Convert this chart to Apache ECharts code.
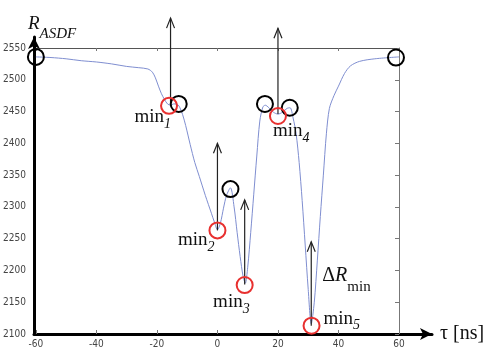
<!DOCTYPE html>
<html>
<head>
<meta charset="utf-8">
<script src="https://cdn.jsdelivr.net/npm/echarts@6/dist/echarts.min.js"></script>
<style>
  html, body { margin: 0; padding: 0; background: #fff; }
  #chart { width: 492px; height: 349px; }
</style>
</head>
<body>
<div id="chart"></div>
<script>
// curve R_ASDF(tau)
const tau = [-60, -55, -50, -45, -40, -35, -30, -26, -23, -21.5, -20.5, -19.5, -18.5, -17.5, -16.5, -15.5,
  -14.5, -13.5, -12.5, -11.5, -10.5, -9, -7.5, -6, -4, -2, -1, 0, 1, 2, 3, 4.3, 5.5, 6.5, 7.5, 8.5, 9.2,
  10, 11, 12, 13, 14, 15, 15.8, 17, 18.5, 20, 21.5, 23, 24, 25, 26, 27, 28, 29, 30, 31, 32, 33, 34, 35,
  36, 37, 38.5, 40, 42, 44, 47, 52, 60];
const rAsdf = [2536, 2535, 2533, 2530, 2528, 2525, 2521, 2519, 2517, 2512, 2503, 2490, 2478, 2469, 2462, 2460,
  2462, 2462, 2457, 2445, 2428, 2398, 2370, 2348, 2318, 2290, 2276, 2264, 2275, 2298, 2318, 2330, 2300, 2260, 2222, 2190, 2180,
  2205, 2260, 2320, 2380, 2435, 2457, 2460, 2456, 2449, 2446, 2449, 2455, 2456, 2440, 2415, 2370, 2310, 2240, 2170, 2116, 2150, 2215, 2285, 2350,
  2415, 2455, 2475, 2490, 2510, 2522, 2529, 2533, 2536];

// red circles (minima) and black circles
const minTau = [-16, 0, 9, 20, 31.1];
const minR = [2459, 2263, 2177, 2443, 2113];
const minNames = ['1', '2', '3', '4', '5'];
const peakTau = [-60, -12.8, 4.3, 15.7, 23.9, 59];
const peakR = [2536, 2462, 2328, 2462, 2456, 2535];

// arrows going up from each minimum
const arrowTau = [-15.5, 0, 9, 20, 31];
const arrowFrom = [2462, 2263, 2178, 2446, 2113];
const arrowTo = [2597, 2400, 2311, 2581, 2245];
const deltaArrow = 4; // the one marked ΔR_min

const xTicks = [-60, -40, -20, 0, 20, 40, 60];
const yTicks = [2100, 2150, 2200, 2250, 2300, 2350, 2400, 2450, 2500, 2550];

const SERIF = "'Liberation Serif', 'DejaVu Serif', serif";
const NARROW = "'Liberation Sans Narrow', 'DejaVu Sans Condensed', sans-serif";

// where each min_k label sits next to its circle
const minLabelPlace = [
  { align: 'right', offset: [2, 11] },
  { align: 'right', offset: [-3, 10] },
  { align: 'right', offset: [5, 17] },
  { align: 'left', offset: [-5, 15] },
  { align: 'left', offset: [12, -7] }
];

const subRich = {
  m: { fontFamily: SERIF, fontSize: 19, color: '#111' },
  s: { fontFamily: SERIF, fontStyle: 'italic', fontSize: 14, color: '#111', verticalAlign: 'bottom', padding: [14, 0, 0, 0] }
};

const xRange = { min: xTicks[0], max: xTicks[xTicks.length - 1], interval: xTicks[1] - xTicks[0] };
const yRange = { min: yTicks[0], max: yTicks[yTicks.length - 1], interval: yTicks[1] - yTicks[0] };

let chart = echarts.init(document.getElementById('chart'), null, { renderer: 'canvas' });

let option = {
  animation: false,
  backgroundColor: '#fff',
  grid: [
    { left: 34, right: 93, top: 48, bottom: 15 },
    // only for the two thick arrow axes
    { left: 34, right: 60, top: 37, bottom: 15 }
  ],
  xAxis: [
    {
      type: 'value', gridIndex: 0, position: 'bottom', ...xRange,
      axisLine: { show: false },
      axisTick: { show: true, inside: true, length: 4, lineStyle: { color: '#777' } },
      axisLabel: { margin: 5, fontFamily: NARROW, fontSize: 10, color: '#444', formatter: v => String(v) },
      splitLine: { show: false }
    },
    {
      type: 'value', gridIndex: 0, position: 'top', ...xRange,
      axisLine: { show: true, onZero: false, lineStyle: { color: '#555', width: 1 } },
      axisTick: { show: true, inside: true, length: 3, lineStyle: { color: '#777' } },
      axisLabel: { show: false },
      splitLine: { show: false }
    },
    {
      type: 'value', gridIndex: 1, position: 'bottom', min: 0, max: 1,
      axisLine: {
        show: true, onZero: false, symbol: ['none', 'arrow'], symbolSize: [9, 12],
        lineStyle: { color: '#000', width: 3 }
      },
      axisTick: { show: false },
      axisLabel: { show: false },
      splitLine: { show: false },
      name: 'τ [ns]',
      nameLocation: 'end',
      nameGap: 8,
      nameTextStyle: { fontFamily: SERIF, fontSize: 20, color: '#111', verticalAlign: 'middle' }
    }
  ],
  yAxis: [
    {
      type: 'value', gridIndex: 0, position: 'left', ...yRange,
      axisLine: { show: false },
      axisTick: { show: false },
      axisLabel: { margin: 10, fontFamily: NARROW, fontSize: 10, color: '#444', formatter: v => String(v) },
      splitLine: { show: false }
    },
    {
      type: 'value', gridIndex: 0, position: 'right', ...yRange,
      axisLine: { show: true, onZero: false, lineStyle: { color: '#777', width: 1 } },
      axisTick: { show: true, inside: true, length: 4, lineStyle: { color: '#777' } },
      axisLabel: { show: false },
      splitLine: { show: false }
    },
    {
      type: 'value', gridIndex: 1, position: 'left', min: 0, max: 1,
      axisLine: {
        show: true, onZero: false, symbol: ['none', 'arrow'], symbolSize: [9, 12],
        lineStyle: { color: '#000', width: 3 }
      },
      axisTick: { show: false },
      axisLabel: { show: false },
      splitLine: { show: false },
      name: '{r|R}{s|ASDF}',
      nameLocation: 'end',
      nameGap: 13,
      nameTextStyle: {
        align: 'left', verticalAlign: 'middle', padding: [0, 0, 0, -6],
        rich: {
          r: { fontFamily: SERIF, fontStyle: 'italic', fontSize: 19, color: '#111' },
          s: { fontFamily: SERIF, fontStyle: 'italic', fontSize: 15, color: '#111', verticalAlign: 'bottom', padding: [20, 0, 0, 0] }
        }
      }
    }
  ],
  series: [
    {
      name: 'R_ASDF',
      type: 'line',
      xAxisIndex: 0, yAxisIndex: 0,
      data: tau.map((t, i) => [t, rAsdf[i]]),
      showSymbol: false,
      smooth: 0.3,
      lineStyle: { color: '#7f8ed0', width: 1 },
      z: 2
    },
    {
      name: 'arrows',
      type: 'custom',
      xAxisIndex: 0, yAxisIndex: 0,
      clip: false,
      data: arrowTau.map((t, i) => [t, arrowFrom[i], arrowTo[i]]),
      encode: { x: 0, y: [1, 2] },
      renderItem: function (params, api) {
        let p0 = api.coord([api.value(0), api.value(1)]);
        let p1 = api.coord([api.value(0), api.value(2)]);
        let children = [
          { type: 'line', shape: { x1: p0[0], y1: p0[1], x2: p1[0], y2: p1[1] },
            style: { stroke: '#222', lineWidth: 1.2 } },
          { type: 'polyline', shape: { points: [[p1[0] - 4, p1[1] + 10], [p1[0], p1[1]], [p1[0] + 4, p1[1] + 10]] },
            style: { stroke: '#222', fill: null, lineWidth: 1.2 } }
        ];
        if (params.dataIndex === deltaArrow) {
          children.push({
            type: 'text',
            x: p0[0] + 11,
            y: (p0[1] + p1[1]) / 2 - 8,
            style: {
              text: '{d|Δ}{r|R}{s|min}',
              align: 'left', verticalAlign: 'middle',
              rich: {
                d: { fontFamily: SERIF, fontSize: 20, fill: '#111' },
                r: { fontFamily: SERIF, fontStyle: 'italic', fontSize: 20, fill: '#111' },
                s: { fontFamily: SERIF, fontSize: 15, fill: '#111', verticalAlign: 'bottom', padding: [22, 0, 0, 0] }
              }
            }
          });
        }
        return { type: 'group', children: children };
      },
      z: 3
    },
    {
      name: 'edges',
      type: 'scatter',
      xAxisIndex: 0, yAxisIndex: 0,
      clip: false,
      data: peakTau.map((t, i) => [t, peakR[i]]),
      symbol: 'circle',
      symbolSize: 16,
      itemStyle: { color: 'rgba(0,0,0,0)', borderColor: '#000', borderWidth: 2, opacity: 1 },
      z: 4
    },
    {
      name: 'minima',
      type: 'scatter',
      xAxisIndex: 0, yAxisIndex: 0,
      clip: false,
      data: minTau.map((t, i) => ({
        value: [t, minR[i]],
        label: {
          show: true,
          position: 'inside',
          align: minLabelPlace[i].align,
          verticalAlign: 'middle',
          offset: minLabelPlace[i].offset,
          formatter: '{m|min}{s|' + minNames[i] + '}',
          rich: subRich
        }
      })),
      symbol: 'circle',
      symbolSize: 16,
      itemStyle: { color: 'rgba(0,0,0,0)', borderColor: '#e8302f', borderWidth: 2, opacity: 1 },
      z: 5
    }
  ]
};

chart.setOption(option);
</script>
</body>
</html>
